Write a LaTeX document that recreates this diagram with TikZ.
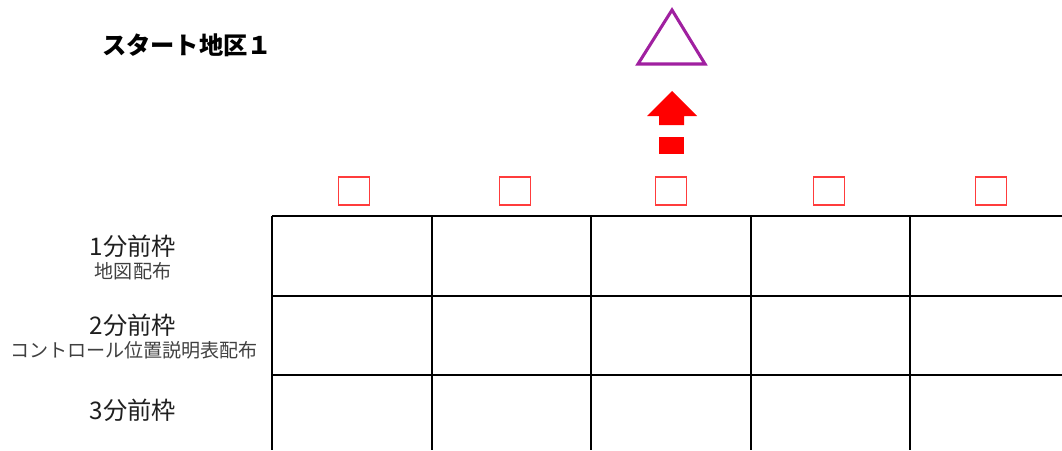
\documentclass[tikz,border=0pt]{standalone}
\usepackage{fontspec}
\newfontfamily\jpfont{Noto Sans CJK JP}
\usetikzlibrary{positioning}
\definecolor{markpurple}{RGB}{160,32,160}
\definecolor{boxred}{RGB}{255,60,60}
\definecolor{subgray}{RGB}{64,64,64}
\tikzset{
  gridln/.style={line width=1.6pt, black},
  ctrlbox/.style={
    draw=boxred, line width=1.1pt,
    minimum width=23pt, minimum height=21pt,
    inner sep=0pt
  },
  startmark/.style={draw=markpurple, line width=2.3pt, line join=miter},
  upmark/.style={fill=red, draw=none},
  ttl/.style={font=\jpfont\bfseries\fontsize{18.2}{21}\selectfont, text=black},
  lbl/.style={font=\jpfont\fontsize{18.2}{21}\selectfont, text=black!88},
  sublbl/.style={font=\jpfont\fontsize{14.3}{17}\selectfont, text=subgray}
}
\begin{document}
\begin{tikzpicture}[x=0.75pt, y=-0.75pt]
  \useasboundingbox (0,0) rectangle (1062,450);

  \node[ttl] (title) at (187,45) {スタート地区１};

  % start triangle and arrow
  \draw[startmark] (638,64) -- (672,10) -- (705,64) -- cycle;
  \fill[upmark] (659,125) -- (659,116) -- (647,116) -- (672,91)
               -- (697,116) -- (684,116) -- (684,125) -- cycle;
  \fill[upmark] (659,137) rectangle (684,154);

  % boxes above the lanes
  \node[ctrlbox] (b1) at (354,191) {};
  \node[ctrlbox] (b2) at (515,191) {};
  \node[ctrlbox] (b3) at (671,191) {};
  \node[ctrlbox] (b4) at (829,191) {};
  \node[ctrlbox] (b5) at (991,191) {};

  % lane grid
  \draw[gridln] (272,216) -- (1062,216);
  \draw[gridln] (272,296) -- (1062,296);
  \draw[gridln] (272,375) -- (1062,375);
  \draw[gridln] (272,216) -- (272,450);
  \draw[gridln] (432,216) -- (432,450);
  \draw[gridln] (591,216) -- (591,450);
  \draw[gridln] (751,216) -- (751,450);
  \draw[gridln] (910,216) -- (910,450);

  % row labels
  \node[lbl]    (r1)  at (133,246) {1分前枠};
  \node[sublbl] (r1s) at (133,271) {地図配布};
  \node[lbl]    (r2)  at (133,325) {2分前枠};
  \node[sublbl] (r2s) at (134,350) {コントロール位置説明表配布};
  \node[lbl]    (r3)  at (133,410) {3分前枠};
\end{tikzpicture}
\end{document}
